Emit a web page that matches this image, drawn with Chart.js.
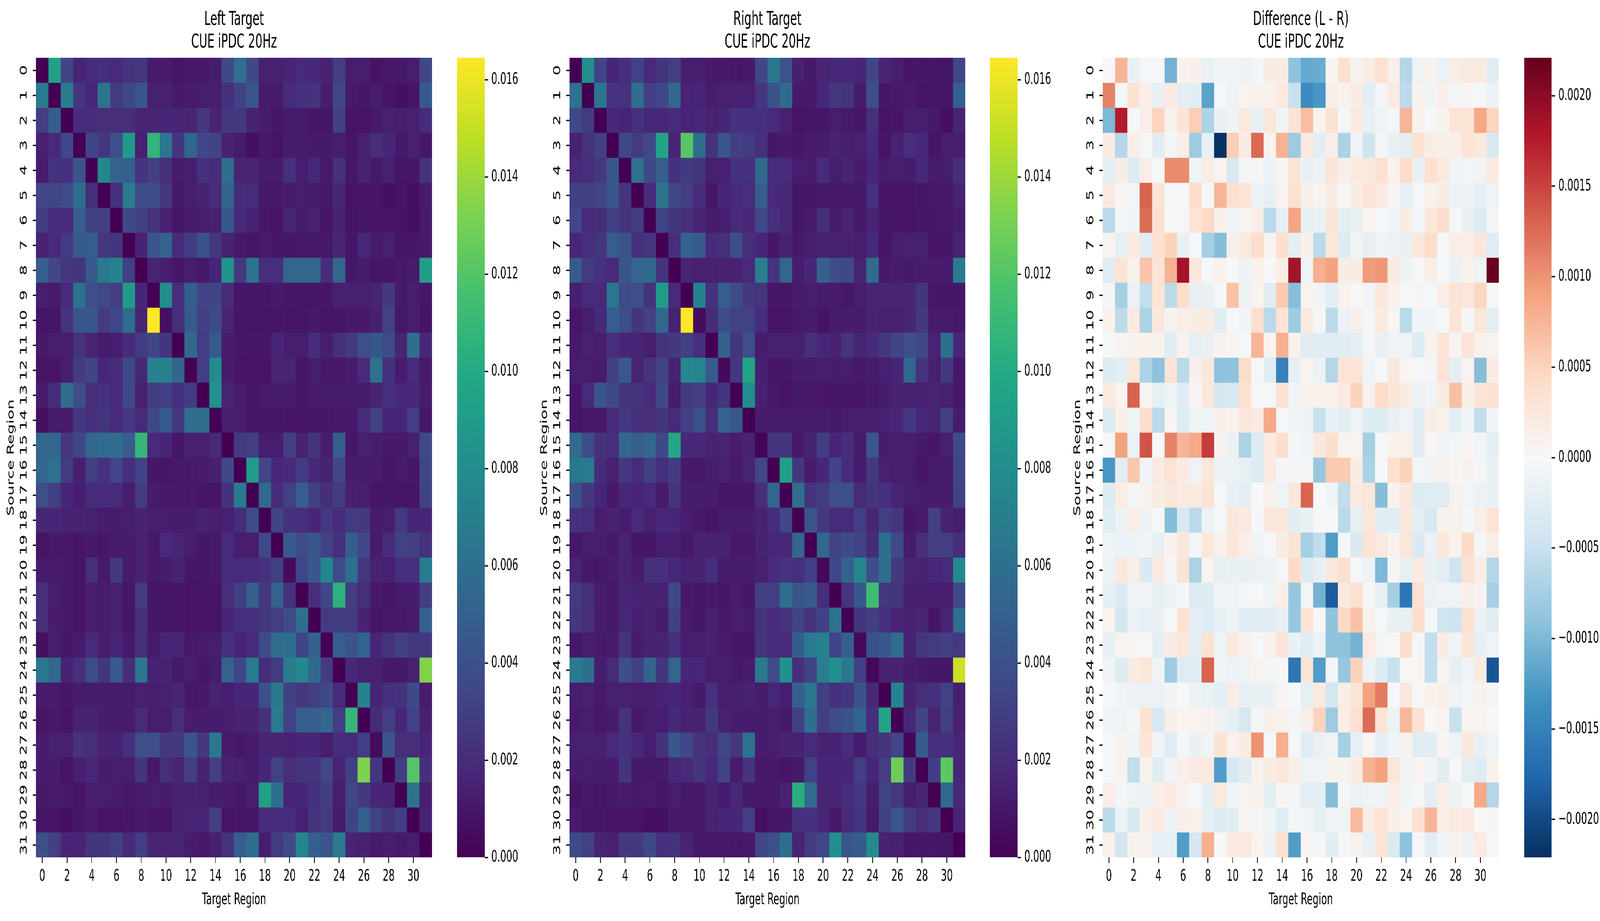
<!DOCTYPE html>
<html>
<head>
<meta charset="utf-8">
<title>CUE iPDC 20Hz</title>
<script src="https://cdn.jsdelivr.net/npm/chart.js@4/dist/chart.umd.min.js"></script>
<style>
    html, body { margin: 0; padding: 0; background: #fff; overflow: hidden; }
    #page { position: absolute; left: 0; top: 0; width: 7097px; height: 2359px; background: #fff; transform-origin: 0 0; }
    canvas { position: absolute; top: 0; }
</style>
</head>
<body>
<div id="page">
<canvas id="heatLeft"></canvas>
<canvas id="barLeft"></canvas>
<canvas id="heatRight"></canvas>
<canvas id="barRight"></canvas>
<canvas id="heatDiff"></canvas>
<canvas id="barDiff"></canvas>
</div>
<script>
// tick labels
const xTickValues = [0, 2, 4, 6, 8, 10, 12, 14, 16, 18, 20, 22, 24, 26, 28, 30];
const yTickValues = [0, 1, 2, 3, 4, 5, 6, 7, 8, 9, 10, 11, 12, 13, 14, 15, 16, 17, 18, 19, 20, 21, 22, 23, 24, 25, 26, 27, 28, 29, 30, 31];
const columns = yTickValues;
const cueTicks = [0, 0.002, 0.004, 0.006, 0.008, 0.01, 0.012, 0.014, 0.016];
const diffTicks = [-0.002, -0.0015, -0.001, -0.0005, 0, 0.0005, 0.001, 0.0015, 0.002];
const cueMax = 0.01645;
const diffMax = 0.00221;

// Left target, in units of 0.001
const leftValues = [
[0,9.3,3.3,1.6,2.0,2.2,1.9,2.4,2.6,1.2,1.2,0.9,1.1,1.1,1.3,3.6,5.9,3.6,1.4,1.4,1.6,1.9,1.8,1.5,2.9,1.3,1.3,0.8,1.1,1.1,1.3,3.4],
[6.8,0,6.8,2.5,1.8,6.3,2.8,3.5,4.4,1.4,1.4,1.1,1.2,1.3,1.3,2.2,3.2,4.4,1.2,1.2,2.0,2.3,2.4,1.3,3.5,1.1,1.0,1.3,0.9,0.7,0.9,4.6],
[2.9,4.9,0,2.0,2.0,2.1,2.1,2.1,1.6,1.6,1.7,1.6,1.6,2.6,1.6,2.6,2.7,1.5,1.3,1.0,1.2,1.2,1.0,1.0,3.0,0.9,0.9,1.1,1.4,1.3,1.4,2.0],
[1.4,1.9,3.4,0,3.3,2.6,4.0,8.9,1.4,10.7,6.4,2.5,5.4,3.4,3.3,1.5,1.2,0.7,1.1,0.8,1.2,1.2,1.1,1.1,1.3,1.0,1.4,2.1,1.7,1.1,1.4,1.0],
[1.2,2.4,2.3,4.3,0,7.6,5.2,5.0,2.5,3.0,2.1,1.2,1.3,2.3,2.0,5.9,1.6,1.6,1.2,1.2,2.2,1.3,1.8,1.1,2.3,1.0,1.5,1.1,1.4,0.9,1.0,2.4],
[3.4,3.4,3.7,5.8,2.3,0,2.2,6.8,3.7,3.8,2.6,1.1,1.3,1.5,2.0,5.2,2.1,1.9,1.1,1.1,1.2,1.3,1.2,1.1,1.7,0.8,0.9,0.9,0.7,0.8,0.7,1.2],
[2.8,1.9,1.9,4.8,3.0,3.0,0,3.6,3.0,2.4,1.5,1.0,1.2,1.3,1.4,4.5,1.9,1.5,1.0,0.8,1.6,1.2,1.4,0.9,1.5,0.8,1.0,0.9,0.9,0.8,0.6,1.1],
[1.5,1.9,2.8,4.7,4.9,2.6,2.5,0,1.5,4.3,5.1,2.0,2.8,4.1,2.6,1.5,1.1,0.9,1.2,1.0,1.0,1.1,1.1,1.1,1.6,1.0,1.8,1.2,1.4,0.9,1.0,1.1],
[4.9,3.4,2.6,2.5,4.7,6.6,7.3,3.0,0,1.6,1.3,1.0,1.3,1.1,1.7,8.6,2.7,6.2,2.1,2.1,5.3,5.3,5.3,2.0,5.4,1.0,1.2,0.9,0.9,1.1,1.2,9.1],
[1.3,1.2,1.9,6.1,3.9,3.6,2.9,9.0,1.7,0,8.0,2.1,4.9,3.3,3.3,1.9,1.0,0.9,1.0,1.1,1.0,0.9,1.0,1.0,1.4,1.4,1.4,1.6,2.7,1.1,1.3,1.0],
[0.9,0.9,2.4,4.3,4.4,2.8,3.5,5.8,1.6,16.4,0.7,2.1,4.6,3.0,3.8,1.6,1.0,0.9,0.9,1.0,0.9,0.9,1.1,0.9,0.9,1.1,1.1,1.4,3.2,1.0,1.3,0.9],
[1.1,1.3,1.3,2.4,1.6,1.2,1.3,2.0,2.8,3.3,2.5,0,5.7,2.9,4.6,1.2,1.0,1.0,1.0,1.7,1.3,1.3,2.0,1.3,2.1,2.7,3.9,4.4,3.7,1.6,6.0,1.8],
[0.8,0.9,1.3,2.8,3.3,1.7,2.0,3.6,1.8,7.1,7.1,5.3,0,2.9,8.0,1.2,0.9,0.8,0.8,1.6,1.6,0.9,1.3,1.1,1.1,1.2,1.9,6.1,2.3,1.2,1.9,1.1],
[1.2,2.0,5.9,3.9,2.1,2.3,1.9,3.5,1.4,2.8,3.0,2.3,2.8,0,8.3,1.6,1.2,0.9,1.2,1.2,1.2,1.0,1.2,1.2,1.2,1.2,1.2,1.6,2.2,1.8,1.8,1.2],
[0.7,1.2,1.2,2.7,2.2,2.5,1.9,2.6,1.9,3.6,4.6,2.6,5.9,5.9,0,1.3,1.3,1.0,1.0,1.0,0.9,0.8,1.0,1.0,1.1,1.1,1.9,3.1,1.7,1.7,2.9,1.0],
[5.4,5.4,2.6,3.4,5.4,5.8,5.8,4.8,10.8,1.9,1.7,1.0,1.4,1.4,1.9,0,2.8,2.9,1.3,1.3,2.9,1.5,2.5,1.3,4.9,1.0,1.4,1.2,1.1,1.1,1.4,3.7],
[5.4,6.1,2.8,1.4,3.0,2.3,3.4,2.2,3.3,1.0,1.0,1.1,1.1,1.2,1.4,3.6,0,9.0,3.3,1.8,1.9,2.8,1.8,1.5,3.4,1.2,1.2,1.2,0.9,1.2,1.0,3.5],
[3.9,3.0,1.7,1.3,2.0,2.0,1.9,1.3,2.8,1.2,1.1,1.1,1.1,0.9,0.9,2.3,6.8,0,5.6,2.0,3.1,4.8,3.0,2.1,2.8,1.4,1.3,0.9,1.0,0.9,0.9,3.2],
[1.7,1.7,1.5,1.5,1.4,1.2,1.2,1.3,1.5,1.3,1.3,1.2,1.2,1.5,1.3,1.4,2.0,3.8,0,3.3,2.3,2.1,1.7,2.7,2.0,2.8,2.7,1.2,1.3,2.7,1.7,1.7],
[0.8,1.1,1.1,0.9,1.1,1.0,1.2,1.2,1.5,1.1,1.9,1.6,1.3,1.0,1.1,1.9,1.3,1.3,3.5,0,4.6,3.7,4.4,3.2,2.2,4.9,3.5,1.2,2.0,3.2,3.0,2.4],
[1.2,1.2,1.1,0.9,2.1,1.1,2.7,1.2,1.5,1.1,1.2,1.5,1.0,1.0,1.1,1.9,1.9,2.0,2.3,3.0,0.5,3.5,4.5,7.6,3.7,6.0,2.6,1.5,1.4,2.2,2.2,6.8],
[2.1,1.3,1.1,0.9,1.3,1.2,1.4,1.0,2.8,1.0,0.9,1.0,0.8,0.9,0.9,2.1,3.0,5.0,2.7,5.1,2.3,0,2.1,3.4,10.5,2.9,2.1,1.1,1.0,1.2,1.2,2.9],
[2.1,1.2,1.1,0.9,1.3,1.2,1.4,1.0,2.3,1.0,1.0,1.0,0.8,0.9,0.9,1.6,2.2,2.2,2.7,2.9,3.7,6.0,0,2.8,2.8,2.8,1.5,0.9,1.1,1.1,1.2,5.0],
[0.7,1.3,1.0,1.2,1.9,1.3,1.7,1.1,2.2,1.2,1.7,1.6,1.1,1.2,1.3,2.3,1.6,2.0,3.8,5.8,6.0,3.3,5.0,0,4.8,4.2,5.2,1.7,2.4,3.0,2.6,2.6],
[6.6,5.5,1.5,2.2,3.8,2.5,4.7,2.1,6.4,1.5,1.5,1.1,1.3,1.0,1.3,5.2,3.5,6.8,2.1,2.8,6.8,7.6,5.6,2.8,0,1.8,1.4,1.4,1.1,1.1,1.4,13.3],
[1.2,1.2,1.0,1.2,1.2,1.2,1.2,1.2,1.4,1.3,1.4,1.6,1.0,1.1,1.5,1.3,1.7,1.7,4.1,6.6,3.1,2.6,2.9,3.6,2.0,0,7.3,1.6,2.2,2.4,3.6,1.2],
[0.9,1.1,0.9,1.5,1.5,1.2,1.2,1.2,1.9,1.3,1.3,2.1,1.2,1.2,1.2,1.3,1.5,1.5,2.3,6.7,3.2,4.9,4.8,5.4,2.9,10.8,0,1.9,2.9,1.7,3.2,1.4],
[1.2,1.4,1.4,2.4,2.1,1.5,1.5,2.2,3.9,3.9,2.7,2.7,4.3,2.7,6.6,1.2,1.0,1.2,1.6,1.6,1.5,1.7,1.7,1.3,2.0,2.0,2.9,0.5,4.3,2.1,2.1,1.7],
[1.2,1.2,0.8,1.4,1.8,1.2,1.3,1.3,2.5,1.1,2.1,1.6,3.0,1.5,3.0,1.5,1.4,1.2,1.7,3.2,2.1,2.5,2.5,3.4,1.6,3.0,13.2,2.5,0,2.9,12.0,2.2],
[1.1,1.2,1.1,0.9,1.3,1.3,1.2,1.0,1.2,1.3,1.2,1.5,1.5,1.4,1.2,1.2,1.0,1.3,9.3,6.0,1.6,1.7,2.3,2.9,1.3,3.3,2.7,1.7,1.6,0,6.3,1.4],
[0.9,0.9,0.7,1.0,1.2,0.8,0.8,1.0,1.1,0.9,0.9,1.5,1.6,1.7,2.9,0.8,1.0,1.0,2.0,2.0,2.0,1.4,2.4,2.8,1.2,3.2,4.9,3.2,2.4,2.9,0,1.5],
[3.9,3.0,1.7,1.6,2.5,2.5,3.0,1.9,2.9,1.6,1.6,1.6,1.2,1.1,1.4,2.4,4.8,6.0,1.3,2.8,3.7,7.5,5.0,4.2,6.8,1.6,1.4,1.1,1.3,1.1,1.3,0]
];

// Right target, in units of 0.001
const rightValues = [
[0,8.0,3.3,1.7,2.2,3.2,1.9,2.5,3.0,1.3,1.3,1.1,1.1,1.0,1.1,3.4,6.4,4.2,1.4,1.1,1.6,1.8,1.8,1.7,3.3,1.6,1.3,1.0,1.0,1.0,1.0,3.4],
[6.2,0,6.4,2.4,2.3,5.9,3.0,3.5,5.5,1.5,1.7,1.2,1.4,1.4,1.4,2.5,4.1,5.7,1.1,1.1,1.8,2.6,2.4,1.2,3.9,1.0,1.1,1.2,0.9,1.0,1.0,5.0],
[3.6,2.8,0,1.8,1.6,2.2,1.8,1.8,2.0,1.6,1.8,1.5,1.7,2.3,2.3,2.2,1.9,1.4,0.8,1.0,1.0,1.3,1.1,1.0,2.2,0.8,1.0,1.3,1.3,1.1,0.7,1.6],
[1.5,2.4,3.0,0,3.5,2.8,3.6,9.5,1.6,12.1,5.8,2.4,4.4,3.0,2.8,2.2,1.0,1.1,1.0,1.2,1.2,1.5,1.3,1.4,1.9,0.9,1.5,2.2,1.8,0.9,1.3,1.3],
[1.9,2.1,2.7,4.4,0,6.1,3.6,4.9,2.3,2.8,2.5,1.4,1.4,2.3,2.3,5.6,2.0,1.9,1.3,1.2,2.0,1.3,1.6,1.2,1.7,1.2,1.3,1.2,1.8,1.2,1.3,2.1],
[3.1,3.1,3.4,4.3,2.4,0,2.0,6.3,3.5,2.9,2.0,1.0,1.7,1.9,2.1,4.8,1.9,1.8,1.0,1.0,1.1,1.1,1.1,1.1,2.2,0.9,0.9,0.9,1.0,1.1,1.1,1.5],
[3.4,1.9,2.1,3.0,2.5,2.8,0,3.2,2.5,2.1,1.6,1.2,1.3,1.9,1.8,3.5,2.2,1.8,1.0,1.2,2.1,1.2,1.5,1.1,1.5,1.0,1.0,0.8,1.0,1.0,1.1,1.2],
[1.7,2.1,2.5,4.9,4.2,2.3,2.6,0,2.2,5.2,4.6,1.9,2.2,3.9,2.1,1.7,1.0,1.5,1.1,1.3,1.4,1.4,1.4,1.3,1.9,0.9,1.3,1.4,1.4,0.9,1.0,1.5],
[4.6,2.8,2.3,1.9,4.4,5.3,5.6,2.5,0,1.6,1.4,1.4,1.5,1.5,1.9,7.0,2.5,5.3,1.3,1.7,5.0,3.8,3.6,1.6,5.7,1.1,1.2,1.1,1.2,1.2,1.2,6.9],
[1.4,1.9,1.9,6.4,3.7,3.9,2.4,9.0,1.9,0,7.2,2.3,4.9,3.8,2.7,2.5,1.0,1.0,1.2,1.3,1.2,1.2,1.0,1.3,1.6,1.6,1.6,1.6,2.5,1.0,1.0,1.0],
[0.9,1.3,1.9,4.8,3.9,2.5,3.2,5.6,1.5,16.4,0.5,2.0,3.8,3.2,3.2,2.0,0.9,0.9,1.1,1.2,0.8,1.2,1.2,1.2,1.6,1.4,1.4,1.6,2.6,1.2,1.2,1.1],
[1.1,1.4,1.3,2.2,1.7,1.6,1.3,2.4,2.7,3.0,2.2,0,5.0,2.5,3.9,1.2,1.4,1.4,1.4,2.1,1.7,1.5,2.4,1.6,2.0,2.7,3.3,3.9,3.5,1.5,6.0,1.7],
[1.3,1.3,1.2,3.0,4.5,1.6,2.4,3.3,1.5,7.7,7.5,4.6,0.4,2.6,9.6,1.4,1.0,1.0,1.2,1.2,1.3,1.2,1.3,1.1,1.2,1.4,1.7,5.5,2.4,1.4,2.7,1.0],
[1.0,1.9,4.3,3.6,2.4,2.4,1.9,3.6,1.2,2.7,2.9,1.7,2.5,0,8.0,1.4,1.1,0.8,1.1,1.1,0.9,1.0,1.0,1.0,1.1,1.2,1.5,1.4,1.4,1.6,1.4,1.0],
[1.0,1.1,1.1,1.9,2.7,2.2,2.1,2.5,1.9,3.0,4.1,2.2,5.2,4.4,0,1.2,1.2,1.2,1.2,1.2,1.2,1.1,1.3,1.3,1.3,1.5,1.7,2.7,1.8,1.6,3.0,1.2],
[5.7,3.8,2.4,2.1,5.4,4.9,5.4,3.6,9.7,1.8,1.8,1.5,1.6,1.2,1.5,0.2,2.5,2.5,1.1,1.5,2.9,1.7,2.1,1.2,4.4,1.2,1.3,1.3,1.1,1.0,1.4,3.7],
[6.5,6.7,2.0,1.4,2.7,2.0,3.1,2.2,2.8,1.1,1.1,1.3,1.4,1.1,1.6,3.4,0,9.2,2.6,1.2,1.8,3.3,2.0,1.2,2.7,1.4,1.3,1.3,0.9,1.2,1.2,3.4],
[4.1,2.6,1.7,1.1,1.8,1.6,1.9,1.2,2.4,1.2,1.2,1.2,1.0,0.9,1.0,2.1,5.4,0,5.9,2.4,2.8,3.9,3.9,1.9,2.5,2.3,1.6,1.3,1.2,1.2,1.2,3.2],
[2.3,2.1,1.3,1.5,1.2,1.9,1.4,1.8,1.7,1.3,1.1,0.9,1.2,1.2,1.2,1.5,2.0,3.4,0,4.3,2.7,1.9,1.9,2.9,1.6,2.9,2.6,1.0,1.2,3.0,1.5,1.3],
[1.0,1.3,1.3,1.1,1.5,1.0,1.0,1.3,1.3,1.1,1.5,1.5,1.5,1.1,1.1,1.5,1.8,1.8,5.3,0,5.5,3.2,3.8,3.2,2.0,6.0,3.7,1.2,2.1,2.9,2.9,2.1],
[1.5,1.1,1.0,1.2,1.5,1.2,2.1,2.2,1.8,1.5,1.5,2.2,1.2,1.2,1.2,1.4,2.0,2.4,2.2,3.0,0.3,3.5,5.2,7.5,3.9,6.0,2.7,1.6,1.5,1.8,1.9,7.8],
[2.8,2.1,1.2,1.1,1.7,1.5,1.5,1.5,3.6,1.1,1.0,1.1,1.0,1.2,1.0,3.0,3.0,5.9,4.4,4.7,2.0,0,2.5,4.5,11.3,2.6,2.5,1.3,1.3,1.3,1.3,3.5],
[2.6,2.1,1.3,1.1,1.8,1.3,1.5,1.2,3.1,1.2,1.0,1.4,1.1,1.3,1.2,2.4,2.0,2.4,3.3,2.4,3.2,6.2,0,2.5,3.0,2.3,1.6,1.4,1.6,1.0,1.6,5.8],
[1.0,1.3,1.1,1.2,2.4,1.2,1.5,1.5,2.2,1.3,1.3,1.4,1.2,1.0,1.0,2.4,2.0,2.0,4.9,6.7,7.2,3.3,5.0,0.3,4.1,4.5,5.8,1.5,2.6,2.8,3.0,2.7],
[6.8,6.0,1.3,1.9,3.9,3.1,5.2,2.5,5.4,1.7,1.8,1.3,1.3,1.1,1.2,6.6,3.8,8.3,2.2,3.2,6.9,8.3,6.5,3.1,0.3,1.5,1.5,1.2,1.1,1.0,1.0,15.2],
[1.3,1.4,1.1,1.4,1.4,1.3,1.3,1.5,1.7,1.4,1.1,2.2,1.3,1.3,1.5,1.2,1.8,1.3,5.0,6.4,3.0,2.2,2.5,4.1,1.8,0,7.4,1.5,2.1,2.2,3.2,1.4],
[1.1,1.3,1.0,1.2,2.4,1.1,1.3,1.3,1.8,1.5,1.5,2.7,1.4,1.2,1.2,1.2,1.3,1.1,3.0,5.9,3.1,3.8,4.2,5.2,2.1,9.6,0,1.8,3.3,1.6,3.1,1.4],
[1.4,1.4,1.4,1.9,2.3,1.8,1.3,2.3,4.4,3.4,2.4,2.1,3.4,2.6,6.2,1.2,1.3,1.5,1.5,1.9,1.5,1.5,2.0,1.2,2.1,2.4,3.3,0.3,4.7,2.2,2.3,1.7],
[1.2,1.3,1.2,1.2,2.5,1.1,1.1,1.1,1.8,1.9,2.5,1.8,3.2,1.2,2.4,1.1,1.1,0.9,1.1,3.2,1.7,1.7,1.7,3.0,1.7,2.9,12.8,2.8,0,2.9,12.3,1.7],
[0.8,1.1,1.0,1.1,1.2,1.1,1.2,1.0,1.3,1.1,1.1,1.6,1.2,1.8,1.1,1.1,1.1,1.5,10.2,5.8,1.6,1.6,2.0,2.6,1.3,3.3,2.6,1.3,1.6,0,5.6,1.8],
[1.2,0.9,1.0,0.8,0.8,0.8,0.6,0.7,1.1,1.1,1.1,1.5,1.7,1.7,2.9,0.7,1.0,1.0,2.3,2.3,1.7,1.1,1.9,2.5,1.1,3.1,4.3,2.8,2.1,2.6,0,1.5],
[3.8,3.2,1.6,1.4,2.7,2.7,3.6,2.3,2.4,1.5,1.1,1.1,1.1,1.0,1.1,3.4,4.1,6.0,1.5,2.8,3.4,8.1,4.4,4.7,7.9,1.5,1.4,1.0,1.0,1.0,1.0,0]
];

// Difference (L - R), in units of 0.0001
const diffValues = [
[0,7.5,-1.5,-0.2,-0.3,-10.5,0.8,1.2,-1.5,-0.8,-1,-1.3,-0.5,1.8,1.7,-9,-11.3,-11,0.5,3.5,0.8,1.7,3.5,1.2,-6.5,-1,0.8,-1.4,1.5,2.2,2.2,-2.5],
[11,-0.2,3.3,1.4,-1.7,2,-2.3,-2.5,-12,-0.3,-1.2,0.7,1,1,2.2,-5,-14,-13,1.3,0.8,1.8,-2.5,-0.5,2,-5.8,0.8,-0.7,1.2,-0.4,0.4,-0.2,-1.3],
[-10,17.5,-0.2,1.4,5,0.8,3,5.5,-7,-1.7,-1,2.2,-1.8,2.6,-0.7,3,6.8,0.8,3.2,-0.4,2,-1.8,-1,-0.5,7.5,0.8,-0.3,0.8,3,3,8.5,4.8],
[2,-6.5,1.5,-0.2,-2.5,-0.6,1.5,-8,-2,-22,5.5,1.7,12.7,1,7.8,-8,2,-2.5,1.5,-7,-1,-4.5,-0.5,-1.7,-2.3,3.2,1.6,1.3,1.2,3,2.6,-3.5],
[-2.2,1.5,-3,1.5,-0.2,10.5,10.5,-1,1.8,0.6,-3.7,-0.5,-0.4,-1.3,0.4,3,-1.5,-1.3,2.8,1.2,2.2,2.2,3.5,1,4.3,-1.5,3.5,2.2,-0.8,-0.6,-0.8,2],
[2.2,0.5,-0.5,13,3,-0.2,-0.2,4.2,-0.2,7.5,3.7,3,-1.2,-1.8,0.6,3.5,1.2,0.7,1.7,0.2,1.7,3,2,0.3,-2,-0.3,1,1.8,-1.2,-1.3,-2.2,-0.9],
[-6,-0.6,-0.8,12.5,3.7,0,-0.2,3,4.5,1.2,-1,0.5,1.5,-6,-2,8.8,-2,-1.5,3,-2.3,-1.6,0.6,-0.2,-1,1.8,-0.4,2.7,4,-0.2,-1.6,-3,-0.5],
[0.6,-2,2,-2.6,3.4,5,-1.8,-0.2,-7.5,-9.5,1.2,2.2,4,0.7,3.8,-2.2,1.2,-6,2.7,-3,-0.8,-1.9,-1,-1.4,-1.6,2.5,4.2,-0.2,1.5,1.6,2.7,-2.8],
[-2.7,3,0.8,6.3,3,7.8,18.5,2.5,-0.2,1,-0.1,-1.2,1,-0.3,1.6,18.5,-1,8,9,1.8,1.8,9.5,9.7,2,-1.2,-0.2,1.5,-0.3,-1.4,1,-1.2,22],
[-0.4,-7.5,-1.4,-5.5,3,-6,4,-1.7,-1.5,-0.2,6.5,-1.2,0.7,-2.5,5.8,-9.5,0.6,-0.7,-2.3,0.8,0.1,-0.8,2.4,1,-0.2,0.4,-0.3,1.5,3,2.7,4.8,-0.2],
[1,-5.8,2.2,-7,2.2,1,1.5,1.8,1.8,-2.4,-0.3,-0.7,3.8,-6,3,-8,2.2,0.3,-6,-1.4,1.2,-0.4,2.2,0.5,-6,-0.8,-0.8,-0.3,3,-0.4,2.7,-2.3],
[-0.1,0.6,0.8,1,0.8,-2.5,0.8,-2,-1.5,0.8,0.5,-0.2,7.5,0.6,8,1,-2.6,-2.6,-2.6,-2.6,-2.2,-0.5,-1.8,-1,-1.1,-3,0.8,3,0.6,2.8,1,0.7],
[-3,-2.3,2.7,-7,-9,3,-6,1.2,2.5,-9,-9,4,-0.2,-2.8,-15,-2,0.7,-1.2,-6.5,3,3,-0.8,-0.3,2.5,0.5,-0.3,-0.4,3,-2.3,0.6,-9.5,1.7],
[2,0.7,13,0.5,-2,-1,-2.7,0.4,2.5,-4,-3.7,3.5,0.1,-0.3,3.3,-0.8,0.8,1,1,2,5,0.8,4.2,2.8,1.8,-1.3,-0.8,1.8,6.7,1.5,3,3.3],
[-3,1.4,-1,4,-6,0.5,-3,-1,-1,1.3,0.9,2.7,2,8.5,-0.3,-1,-1.3,-5,-1.5,-2.5,-1.1,-3,-3,-1.5,-0.7,-2.5,1.5,1,-2.4,-0.7,-5.5,-0.7],
[-0.2,9,-1.5,14,-0.2,11,7.5,8.5,15.5,0.8,-1.5,-7,-3,2,3.8,-0.2,-1,2.4,3.7,0.7,0.6,-7.5,-0.2,1,1.1,-2.5,0.4,-0.9,-0.6,0.5,-0.7,-2.3],
[-13,-2.5,6,-0.8,2,3,2,-0.9,2.5,-1.3,-1.2,-2,-3,2,-0.4,-0.5,-0.4,-8.5,5.8,5.8,1.8,-7,-0.2,3.5,5,-0.6,-0.7,1,0.5,0.8,-0.5,-1.5],
[-3,1.8,-0.4,0.8,1.8,2.5,2,2,3,-0.3,-1.8,-2.2,0,0.8,-1,2.5,13,-0.1,-1,-5.5,2.2,2.5,-9.5,1,2.6,-3,-2.7,-2.8,1,-0.6,-1.4,-1.5],
[-2.8,-1.3,1.5,-1.3,-0.3,-9.5,-3.5,-6,-1.2,-0.3,2.5,2,-0.2,2.5,2.5,-2.5,-1.7,-0.2,-0.2,-6,-2,2.5,-2.5,-2.5,2.5,-2.3,-3.5,0.8,1,-0.4,1.4,3],
[-1,-1.3,-1.2,-0.8,-1.7,0.8,2.5,-0.6,2.4,0.9,2.8,1.4,-0.9,-0.2,1.8,3,-7.5,-5.5,-12.5,-0.2,-3.3,3,2,0.8,2.7,-3.2,-1.4,2.5,1,4.4,-0.3,1.6],
[-1.2,2.3,1.5,-3.3,2,-0.5,3,-7,0.7,-2,-1.5,-1.8,-1.4,-1.2,-0.3,4.4,-3,-2,2.5,3.7,-0.2,-1.2,-10,0.3,-1.6,2,-1.5,-2.3,-4.5,3.3,1.6,-6.5],
[-2,-3.2,-0.8,-0.8,-2,-1.2,-0.2,-3,-3,-0.8,-1,-0.5,-0.3,-1,1.4,-8.5,-0.6,-10.5,-18.5,2.2,3.4,-0.2,-2,-7.5,-16,3.5,-1.5,-0.9,-1.1,1.4,0.8,-7.5],
[0.7,-4,-1.3,-2,-1.5,-0.2,3.5,-2.2,-3,-2,-1,-2.8,-2.5,-2.5,-1.5,-8.5,3,0.2,-9,4.5,6.5,0.8,-0.2,-1.7,-1.7,4,-0.4,-4.4,-4.5,3.5,-1.4,-2.4],
[-1.6,0.6,0.3,0.2,-2.3,1.7,2.4,-2.2,3.3,-1,2.2,0.9,-0.2,0.9,2.9,-1.5,-2.8,-1.3,-9,-9,-10.5,2,-0.4,0.1,4,-0.4,-5.5,1.7,-0.8,2.8,-2,-1],
[-0.8,-3,1.8,2.7,-0.8,-8,-2.7,-2.7,13,-0.8,-1.3,-1,0.6,-0.5,0.3,-16,2.8,-12.5,-0.6,-8.5,5,-1.3,-3,-5,0.2,0.3,-5.5,0.7,-2,-0.7,1.9,-19],
[-0.2,-0.7,-1.4,-1.4,-1.4,-0.7,0,-1.2,-1.5,-2.2,1.5,-1.8,-1.5,-1.5,0.4,-0.3,-2,2,-4,1.5,3,9,11.5,-0.2,2.3,0.2,1,1.2,-1,-0.6,0.8,-0.5],
[-0.8,-1,-0.4,3.2,-3.5,1.3,0.6,0.7,0.9,-1.2,-2,-3.7,-0.4,1.2,0.9,-0.5,1.2,5,-8,1.6,3.4,12.5,3.2,-1.2,7.3,3.2,0,0.7,-5,0.6,0.6,-0.2],
[-0.3,0.8,-1.1,2.8,-0.7,-2.7,-0.4,-1.5,-0.8,3.2,1,1.8,10,-0.3,8,-0.3,-2.8,-1.5,-0.9,-7.5,-2,0.3,-2.2,-0.8,0.8,-2.7,-2.6,0.3,-1.2,2.3,-1.6,-1],
[-0.2,0.8,-5.5,0.8,-2.5,-0.7,1.2,2,2,-12.5,-4,-2.5,1,1.8,2.7,1.4,-1,-0.9,0.8,0.8,1.8,7.8,9,2.7,-0.9,0.6,-0.8,-2.6,-0.2,-2.3,-3,1],
[1.5,-0.5,-1,-1.4,1.3,2,0.8,-0.3,-2.1,2.2,-0.8,0.6,0.8,-2.3,0.3,-0.5,-2.2,-2.2,-9.5,-0.4,-1.4,-1,-0.9,1.6,-0.7,-0.3,-2.2,1.4,-1.2,-0.1,8.5,-6.5],
[-6,-1.4,-3.5,1.2,2,-1.3,1.4,1.1,-2,-3,-2.4,0.5,-0.5,-1,-2.8,-0.6,-0.8,-2,-1,-1,7,1.7,3.1,1.3,0.7,3.5,7.5,1.4,1.8,2.2,0.2,0.3],
[1,-4.2,0.8,0.8,-2,-2,-12.5,-4,8,-0.1,2,2.2,0.7,-1.2,3.5,-12.5,0.4,-0.4,-2.4,-0.3,0.8,-1.6,3,-3.2,-9,-0.2,-2.5,-0.8,1,-1.2,2,0]
];

// colormaps
const viridis = ['#440154', '#482576', '#414487', '#355f8d', '#2a788e', '#21908d', '#22a884', '#43bf71', '#7ad151', '#bddf26', '#fde725'];
const rdBu = ['#053061', '#2166ac', '#4393c3', '#92c5de', '#d1e5f0', '#f7f7f7', '#fddbc7', '#f4a582', '#d6604d', '#b2182b', '#67001f'];

// figure layout in reference pixels
const PAGE_W = 7097;
const PAGE_H = 2359;
const PLOT_TOP = 148;
const PLOT_BOTTOM = 2196;
const FONT = 'DejaVu Sans';
const TICK_SIZE = 41.67;

// the window can come up narrower than asked, so fit the whole figure into it
document.getElementById('page').style.transform =
    `scale(${Math.min(1, window.innerWidth / PAGE_W)}, ${Math.min(1, window.innerHeight / PAGE_H)})`;

function hexToRgb(hex) {
    return [1, 3, 5].map(i => parseInt(hex.slice(i, i + 2), 16));
}

function colorAt(stops, t) {
    const clamped = Math.min(1, Math.max(0, t));
    const pos = clamped * (stops.length - 1);
    const i = Math.min(Math.floor(pos), stops.length - 2);
    const a = hexToRgb(stops[i]);
    const b = hexToRgb(stops[i + 1]);
    const f = pos - i;
    return `rgb(${a.map((v, k) => Math.round(v + (b[k] - v) * f)).join(',')})`;
}

function tickStyle() {
    return {
        display: true,
        offset: false,
        drawOnChartArea: false,
        drawTicks: true,
        tickLength: 14.6,
        tickWidth: 3.3,
        tickColor: '#000'
    };
}

function placeCanvas(id, left, width) {
    const canvas = document.getElementById(id);
    canvas.style.left = left + 'px';
    canvas.width = width;
    canvas.height = PAGE_H;
    canvas.style.width = width + 'px';
    canvas.style.height = PAGE_H + 'px';
    return canvas.getContext('2d');
}

function drawHeatmap(id, titleLines, values, unit, stops, vmin, vmax, plotLeft, plotRight, canvasLeft) {
    const ctx = placeCanvas(id, canvasLeft, plotRight - canvasLeft + 60);
    const datasets = values.map((row, r) => ({
        data: row.map((v, c) => ({ x: columns[c], y: [r - 0.5, r + 0.5] })),
        backgroundColor: row.map(v => colorAt(stops, (v * unit - vmin) / (vmax - vmin))),
        borderWidth: 0,
        barPercentage: 1,
        categoryPercentage: 1,
        grouped: false
    }));

    new Chart(ctx, {
        type: 'bar',
        data: { datasets },
        options: {
            responsive: false,
            animation: false,
            devicePixelRatio: 1,
            layout: { padding: { left: 0, right: 60, top: 0, bottom: 0 } },
            plugins: {
                legend: { display: false },
                tooltip: { enabled: false },
                title: {
                    display: true,
                    fullSize: false,
                    text: titleLines,
                    color: '#000',
                    font: { family: FONT, size: 50, weight: 'normal', lineHeight: 1.16 },
                    padding: { top: 22, bottom: 10 }
                }
            },
            scales: {
                x: {
                    type: 'linear',
                    offset: false,
                    min: -0.5,
                    max: 31.5,
                    grid: tickStyle(),
                    border: { display: false },
                    afterBuildTicks: scale => { scale.ticks = xTickValues.map(value => ({ value })); },
                    afterFit: scale => { scale.height = PAGE_H - PLOT_BOTTOM; },
                    ticks: {
                        autoSkip: false,
                        minRotation: 0,
                        maxRotation: 0,
                        padding: 10,
                        color: '#000',
                        font: { family: FONT, size: TICK_SIZE },
                        callback: v => String(v)
                    },
                    title: {
                        display: true,
                        text: 'Target Region',
                        color: '#000',
                        font: { family: FONT, size: TICK_SIZE },
                        padding: { top: 12, bottom: 29 }
                    }
                },
                y: {
                    type: 'linear',
                    reverse: true,
                    min: -0.5,
                    max: 31.5,
                    grid: tickStyle(),
                    border: { display: false },
                    afterBuildTicks: scale => { scale.ticks = yTickValues.map(value => ({ value })); },
                    afterFit: scale => { scale.width = plotLeft - canvasLeft; },
                    ticks: {
                        autoSkip: false,
                        minRotation: 90,
                        maxRotation: 90,
                        crossAlign: 'center',
                        padding: 12,
                        color: '#000',
                        font: { family: FONT, size: TICK_SIZE },
                        callback: v => String(v)
                    },
                    title: {
                        display: true,
                        text: 'Source Region',
                        color: '#000',
                        font: { family: FONT, size: TICK_SIZE },
                        padding: { top: 24, bottom: 0 }
                    }
                }
            }
        }
    });
}

function drawColorbar(id, stops, vmin, vmax, tickValues, digits, barLeft, barWidth) {
    const labelWidth = 270;
    const ctx = placeCanvas(id, barLeft, barWidth + labelWidth);
    new Chart(ctx, {
        type: 'bar',
        data: {
            labels: [''],
            datasets: [{
                data: [[vmin, vmax]],
                borderWidth: 0,
                barPercentage: 1,
                categoryPercentage: 1,
                backgroundColor: context => {
                    const area = context.chart.chartArea;
                    if (!area) return stops[0];
                    const gradient = context.chart.ctx.createLinearGradient(0, area.bottom, 0, area.top);
                    stops.forEach((color, i) => gradient.addColorStop(i / (stops.length - 1), color));
                    return gradient;
                }
            }]
        },
        options: {
            responsive: false,
            animation: false,
            devicePixelRatio: 1,
            layout: { padding: { left: 0, right: 0, top: PLOT_TOP, bottom: PAGE_H - PLOT_BOTTOM } },
            plugins: { legend: { display: false }, tooltip: { enabled: false } },
            scales: {
                x: { display: false },
                y: {
                    position: 'right',
                    min: vmin,
                    max: vmax,
                    grid: tickStyle(),
                    border: { display: false },
                    afterBuildTicks: scale => { scale.ticks = tickValues.map(value => ({ value })); },
                    afterFit: scale => { scale.width = labelWidth; },
                    ticks: {
                        autoSkip: false,
                        padding: 14.6,
                        color: '#000',
                        font: { family: FONT, size: TICK_SIZE },
                        callback: v => v.toFixed(digits).replace('-', '\u2212')
                    }
                }
            }
        }
    });
}

drawHeatmap('heatLeft', ['Left Target', 'CUE iPDC 20Hz'], leftValues, 0.001, viridis, 0, cueMax, 160, 1916, 0);
drawColorbar('barLeft', viridis, 0, cueMax, cueTicks, 3, 2027, 123);
drawHeatmap('heatRight', ['Right Target', 'CUE iPDC 20Hz'], rightValues, 0.001, viridis, 0, cueMax, 2526, 4282, 2366);
drawColorbar('barRight', viridis, 0, cueMax, cueTicks, 3, 4391, 123);
drawHeatmap('heatDiff', ['Difference (L - R)', 'CUE iPDC 20Hz'], diffValues, 0.0001, rdBu, -diffMax, diffMax, 4891, 6649, 4731);
drawColorbar('barDiff', rdBu, -diffMax, diffMax, diffTicks, 4, 6760, 123);
</script>
</body>
</html>
